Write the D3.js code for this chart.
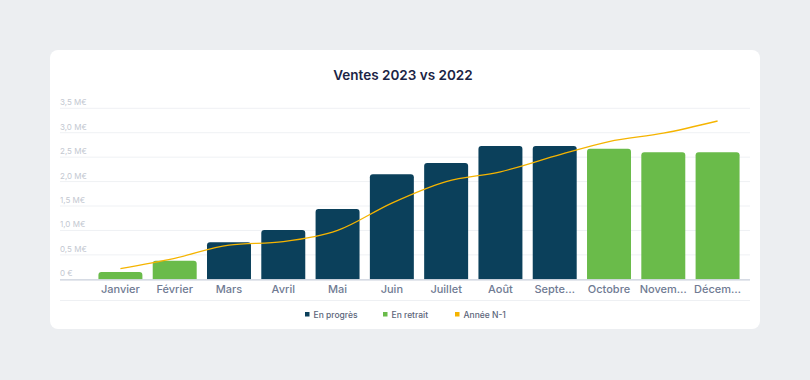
<!DOCTYPE html>
<html>
<head>
<meta charset="utf-8">
<script src="https://cdn.jsdelivr.net/npm/d3@7"></script>
<style>
  html, body { margin: 0; padding: 0; background: #eceef1; }
  svg { display: block; font-family: Inter, 'Noto Sans', sans-serif; }
</style>
</head>
<body>
<svg id="chart"></svg>
<script>
const months = ['Janvier', 'Février', 'Mars', 'Avril', 'Mai', 'Juin', 'Juillet', 'Août', 'Septembre', 'Octobre', 'Novembre', 'Décembre'];
const monthLabels = ['Janvier', 'Février', 'Mars', 'Avril', 'Mai', 'Juin', 'Juillet', 'Août', 'Septe…', 'Octobre', 'Novem…', 'Décem…'];
const sales2023 = [0.15, 0.38, 0.76, 1.01, 1.44, 2.15, 2.38, 2.73, 2.73, 2.67, 2.60, 2.60];
const sales2022 = [0.22, 0.43, 0.70, 0.77, 1.00, 1.56, 2.00, 2.20, 2.52, 2.82, 2.99, 3.24];
const yTicks = [0, 0.5, 1.0, 1.5, 2.0, 2.5, 3.0, 3.5];
const yTickLabels = ['0 €', '0,5 M€', '1,0 M€', '1,5 M€', '2,0 M€', '2,5 M€', '3,0 M€', '3,5 M€'];
const legendItems = ['En progrès', 'En retrait', 'Année N-1'];

const width = 810, height = 380;
const colorUp = '#0b405b';
const colorDown = '#6abb4a';
const colorLine = '#f5b400';

const svg = d3.select('#chart')
  .attr('width', width)
  .attr('height', height);

svg.append('rect')
  .attr('width', width)
  .attr('height', height)
  .attr('fill', '#eceef1');

// card
svg.append('rect')
  .attr('x', 50).attr('y', 50)
  .attr('width', 710).attr('height', 279)
  .attr('rx', 8).attr('ry', 8)
  .attr('fill', '#fff');

svg.append('text')
  .attr('x', 403).attr('y', 79.5)
  .attr('text-anchor', 'middle')
  .attr('font-size', 13.5)
  .attr('font-weight', 600)
  .attr('fill', '#1b2445')
  .text('Ventes 2023 vs 2022');

const x = d3.scaleBand()
  .domain(months)
  .range([93, 745])
  .paddingInner(0.19)
  .paddingOuter(0.1);

const y = d3.scaleLinear()
  .domain([0, 3.5])
  .range([279.3, 108.3]);

// grid
svg.append('g')
  .selectAll('line')
  .data(yTicks.slice(1))
  .join('line')
  .attr('x1', 60).attr('x2', 750)
  .attr('y1', d => y(d)).attr('y2', d => y(d))
  .attr('stroke', '#eff1f4')
  .attr('stroke-width', 1);

svg.append('g')
  .selectAll('text')
  .data(yTicks)
  .join('text')
  .attr('x', 60)
  .attr('y', d => y(d) - 3)
  .attr('font-size', 8)
  .attr('fill', '#c3c8d1')
  .text((d, i) => yTickLabels[i]);

// bars with rounded tops
const r = 3;
const barPath = (d, i) => {
  const x0 = x(months[i]), w = x.bandwidth();
  const y0 = y(d), yb = y(0);
  const rr = Math.min(r, (yb - y0));
  return `M${x0},${yb} V${y0 + rr} Q${x0},${y0} ${x0 + rr},${y0} H${x0 + w - rr} Q${x0 + w},${y0} ${x0 + w},${y0 + rr} V${yb} Z`;
};

svg.append('g')
  .selectAll('path')
  .data(sales2023)
  .join('path')
  .attr('d', barPath)
  .attr('fill', (d, i) => d >= sales2022[i] ? colorUp : colorDown);

// baseline axis
svg.append('line')
  .attr('x1', 60).attr('x2', 750)
  .attr('y1', y(0) + 0.5).attr('y2', y(0) + 0.5)
  .attr('stroke', '#c9cfdb')
  .attr('stroke-width', 1.2);

// x labels
svg.append('g')
  .selectAll('text')
  .data(months)
  .join('text')
  .attr('x', d => x(d) + x.bandwidth() / 2)
  .attr('y', 292.5)
  .attr('text-anchor', 'middle')
  .attr('font-size', 11)
  .attr('font-weight', 500)
  .attr('fill', '#707b93')
  .text((d, i) => monthLabels[i]);

svg.append('line')
  .attr('x1', 60).attr('x2', 750)
  .attr('y1', 300.5).attr('y2', 300.5)
  .attr('stroke', '#eef0f3');

// N-1 line
const line = d3.line()
  .x((d, i) => x(months[i]) + x.bandwidth() / 2)
  .y(d => y(d))
  .curve(d3.curveMonotoneX);

svg.append('path')
  .datum(sales2022)
  .attr('fill', 'none')
  .attr('stroke', colorLine)
  .attr('stroke-width', 1.3)
  .attr('d', line);

// legend
const legendX = [305, 383, 455];
const legendColors = [colorUp, colorDown, colorLine];
const lg = svg.append('g')
  .selectAll('g')
  .data(legendItems)
  .join('g')
  .attr('transform', (d, i) => `translate(${legendX[i]}, 315)`);

lg.append('rect')
  .attr('x', 0).attr('y', -3)
  .attr('width', 4.5).attr('height', 4.5)
  .attr('fill', (d, i) => legendColors[i]);

lg.append('text')
  .attr('x', 8.5).attr('y', 2.5)
  .attr('font-size', 8.5)
  .attr('font-weight', 500)
  .attr('fill', '#5b6579')
  .text(d => d);
</script>
</body>
</html>
